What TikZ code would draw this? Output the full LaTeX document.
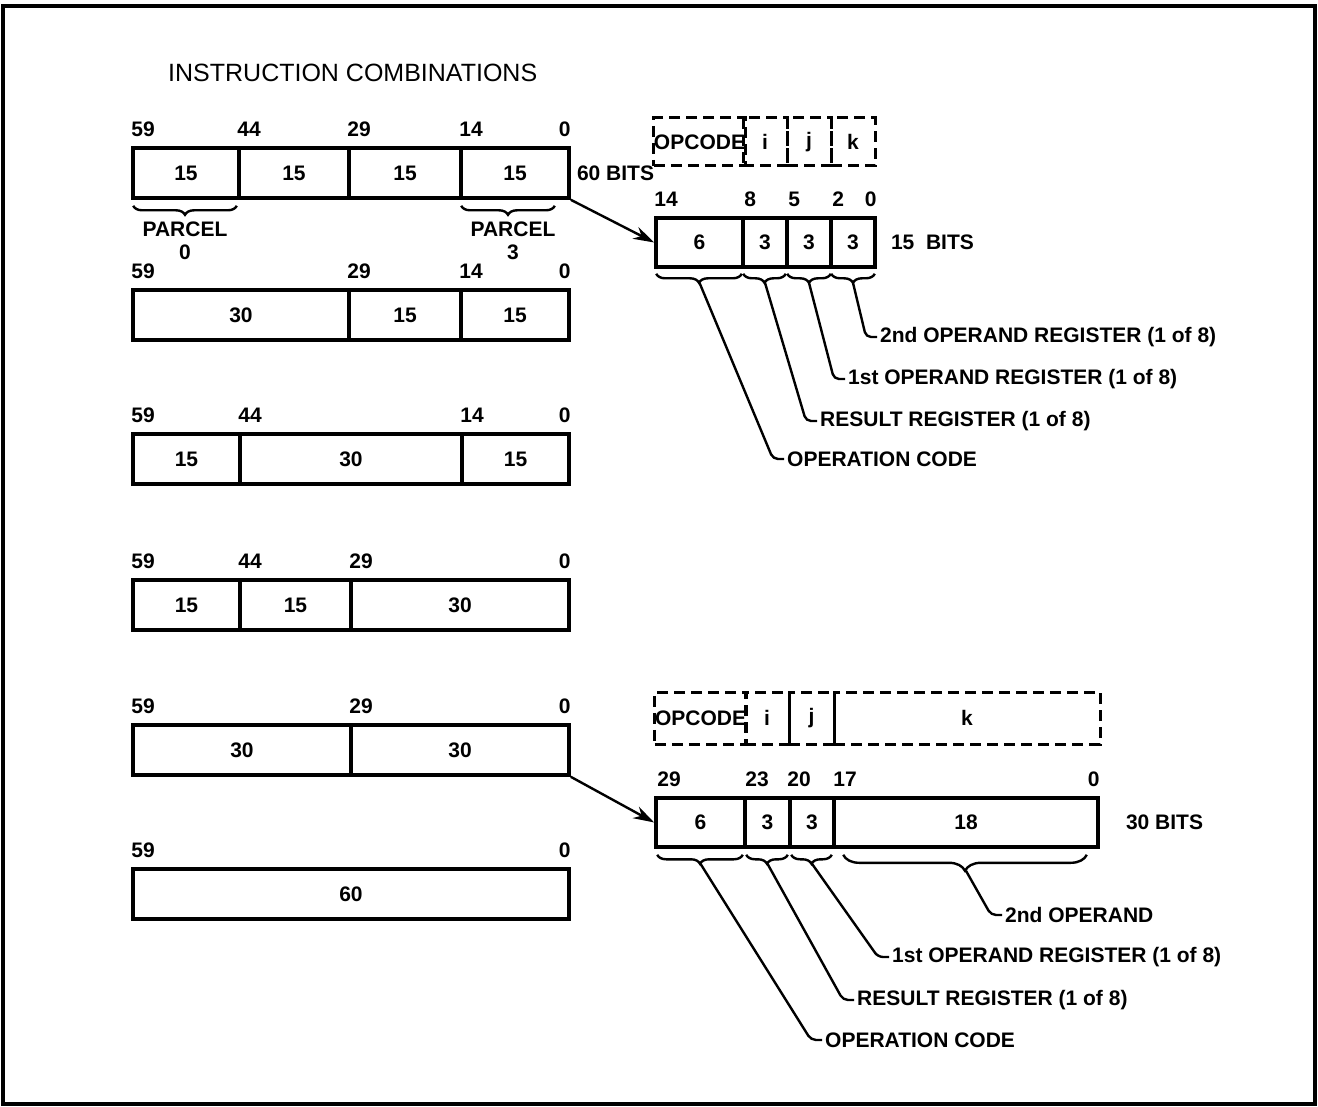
\documentclass[tikz,border=0pt]{standalone}
\usepackage{fontspec}
\setmainfont{Liberation Sans}
\usepackage{tikz}
\usetikzlibrary{arrows.meta,decorations.pathreplacing}

\begin{document}
\begin{tikzpicture}[x=1pt, y=-1pt,
  fld/.style={draw, line width=3.6pt, inner sep=0pt, minimum height=50pt, font=\fontsize{21}{24}\selectfont\bfseries},
  dfld/.style={fld, dash pattern=on 11pt off 6pt, line width=3pt, minimum height=48pt},
  bit/.style={anchor=base west, inner sep=0pt, font=\fontsize{21}{24}\selectfont\bfseries},
  bitr/.style={bit, anchor=base east},
  lbl/.style={anchor=west, inner sep=0pt, font=\fontsize{21}{24}\selectfont\bfseries},
  plab/.style={anchor=north, inner sep=0pt, align=center, font=\fontsize{21}{23}\selectfont\bfseries},
  brc/.style={decorate, decoration={brace, mirror, amplitude=9pt}, line width=2.4pt},
  lead/.style={line width=2.4pt, rounded corners=5pt},
  arr/.style={-{Stealth[length=21pt, width=13pt]}, line width=2.4pt}
]
  \useasboundingbox (0,0) rectangle (1318,1107);
  \draw[line width=3.6pt] (3,6) rectangle (1315,1104);

  \node[anchor=west, inner sep=0pt, font=\fontsize{25}{28}\selectfont] (title) at (168,73) {INSTRUCTION COMBINATIONS};

  \node[fld, minimum width=106pt] (r1a) at (186,173) {15};
  \node[fld, minimum width=110pt] (r1b) at (294,173) {15};
  \node[fld, minimum width=112pt] (r1c) at (405,173) {15};
  \node[fld, minimum width=108pt] (r1d) at (515,173) {15};
  \node[bit] (r1n59) at ([yshift=10pt]r1a.north west) {59};
  \node[bit] (r1n44) at ([yshift=10pt]r1b.north west) {44};
  \node[bit] (r1n29) at ([yshift=10pt]r1c.north west) {29};
  \node[bit] (r1n14) at ([yshift=10pt]r1d.north west) {14};
  \node[bitr] (r1n0) at ([yshift=10pt]r1d.north east) {0};
  \node[lbl] (r1bits) at ([xshift=6pt]r1d.east) {60 BITS};
  \draw[brc] ([xshift=2pt,yshift=-6pt]r1a.south west) -- ([xshift=-4pt,yshift=-6pt]r1a.south east);
  \draw[brc] ([xshift=2pt,yshift=-6pt]r1d.south west) -- ([xshift=-16pt,yshift=-6pt]r1d.south east);
  \node[plab] (par0) at (185,222) {PARCEL\\0};
  \node[plab] (par3) at (513,222) {PARCEL\\3};

  \node[fld, minimum width=216pt] (r2a) at (241,315) {30};
  \node[fld, minimum width=112pt] (r2b) at (405,315) {15};
  \node[fld, minimum width=108pt] (r2c) at (515,315) {15};
  \node[bit] (r2n59) at ([yshift=10pt]r2a.north west) {59};
  \node[bit] (r2n29) at ([yshift=10pt]r2b.north west) {29};
  \node[bit] (r2n14) at ([yshift=10pt]r2c.north west) {14};
  \node[bitr] (r2n0) at ([yshift=10pt]r2c.north east) {0};

  \node[fld, minimum width=107pt] (r3a) at (186.5,459) {15};
  \node[fld, minimum width=222pt] (r3b) at (351,459) {30};
  \node[fld, minimum width=107pt] (r3c) at (515.5,459) {15};
  \node[bit] (r3n59) at ([yshift=10pt]r3a.north west) {59};
  \node[bit] (r3n44) at ([yshift=10pt]r3b.north west) {44};
  \node[bit] (r3n14) at ([yshift=10pt]r3c.north west) {14};
  \node[bitr] (r3n0) at ([yshift=10pt]r3c.north east) {0};

  \node[fld, minimum width=107pt] (r4a) at (186.5,605) {15};
  \node[fld, minimum width=111pt] (r4b) at (295.5,605) {15};
  \node[fld, minimum width=218pt] (r4c) at (460,605) {30};
  \node[bit] (r4n59) at ([yshift=10pt]r4a.north west) {59};
  \node[bit] (r4n44) at ([yshift=10pt]r4b.north west) {44};
  \node[bit] (r4n29) at ([yshift=10pt]r4c.north west) {29};
  \node[bitr] (r4n0) at ([yshift=10pt]r4c.north east) {0};

  \node[fld, minimum width=218pt] (r5a) at (242,750) {30};
  \node[fld, minimum width=218pt] (r5b) at (460,750) {30};
  \node[bit] (r5n59) at ([yshift=10pt]r5a.north west) {59};
  \node[bit] (r5n29) at ([yshift=10pt]r5b.north west) {29};
  \node[bitr] (r5n0) at ([yshift=10pt]r5b.north east) {0};

  \node[fld, minimum width=436pt] (r6a) at (351,894) {60};
  \node[bit] (r6n59) at ([yshift=10pt]r6a.north west) {59};
  \node[bitr] (r6n0) at ([yshift=10pt]r6a.north east) {0};

  \node[dfld, minimum width=87pt] (d15a) at (699.5,142) {OPCODE};
  \node[dfld, minimum width=44pt] (d15b) at (765,142) {i};
  \node[dfld, minimum width=44pt] (d15c) at (809,142) {j};
  \node[dfld, minimum width=44pt] (d15d) at (853,142) {k};

  \node[fld, minimum width=87pt, minimum height=49pt] (f15a) at (699.5,242.5) {6};
  \node[fld, minimum width=44pt, minimum height=49pt] (f15b) at (765,242.5) {3};
  \node[fld, minimum width=44pt, minimum height=49pt] (f15c) at (809,242.5) {3};
  \node[fld, minimum width=44pt, minimum height=49pt] (f15d) at (853,242.5) {3};
  \node[bit] (f15n14) at ([yshift=10pt]f15a.north west) {14};
  \node[bit] (f15n8) at ([xshift=3pt,yshift=10pt]f15b.north west) {8};
  \node[bit] (f15n5) at ([xshift=3pt,yshift=10pt]f15c.north west) {5};
  \node[bit] (f15n2) at ([xshift=3pt,yshift=10pt]f15d.north west) {2};
  \node[bitr] (f15n0) at ([yshift=10pt]f15d.north east) {0};
  \node[lbl] (f15bits) at ([xshift=14pt]f15d.east) {15\ \ BITS};
  \draw[arr] (r1d.south east) -- (f15a.west);

  \draw[brc] ([xshift=2pt,yshift=-5pt]f15a.south west) -- ([xshift=-3pt,yshift=-5pt]f15a.south east);
  \draw[brc] ([xshift=2pt,yshift=-5pt]f15b.south west) -- ([xshift=-3pt,yshift=-5pt]f15b.south east);
  \draw[brc] ([xshift=2pt,yshift=-5pt]f15c.south west) -- ([xshift=-2pt,yshift=-5pt]f15c.south east);
  \draw[brc] ([xshift=2pt,yshift=-5pt]f15d.south west) -- ([xshift=-2pt,yshift=-5pt]f15d.south east);
  \coordinate (t15a) at ([yshift=-14pt]f15a.south);
  \coordinate (t15b) at ([yshift=-14pt]f15b.south);
  \coordinate (t15c) at ([yshift=-14pt]f15c.south);
  \coordinate (t15d) at ([yshift=-14pt]f15d.south);

  \node[lbl] (op2reg15) at (880,337) {2nd OPERAND REGISTER (1 of 8)};
  \node[lbl] (op1reg15) at (848,379) {1st OPERAND REGISTER (1 of 8)};
  \node[lbl] (res15) at (820,421) {RESULT REGISTER (1 of 8)};
  \node[lbl] (opc15) at (787,459) {OPERATION CODE};
  \draw[lead] (t15d) -- ([xshift=-14pt]op2reg15.west) -- ([xshift=-3pt]op2reg15.west);
  \draw[lead] (t15c) -- ([xshift=-14pt]op1reg15.west) -- ([xshift=-3pt]op1reg15.west);
  \draw[lead] (t15b) -- ([xshift=-14pt]res15.west) -- ([xshift=-3pt]res15.west);
  \draw[lead] (t15a) -- ([xshift=-14pt]opc15.west) -- ([xshift=-3pt]opc15.west);

  \node[dfld, minimum width=89pt, minimum height=52pt] (d30a) at (700.5,718) {OPCODE};
  \node[dfld, minimum width=44pt, minimum height=52pt] (d30b) at (767,718) {i};
  \node[dfld, minimum width=45pt, minimum height=52pt] (d30c) at (811.5,718) {j};
  \node[dfld, minimum width=266pt, minimum height=52pt] (d30d) at (967,718) {k};

  \node[fld, minimum width=89pt, minimum height=49pt] (f30a) at (700.5,822.5) {6};
  \node[fld, minimum width=45pt, minimum height=49pt] (f30b) at (767.5,822.5) {3};
  \node[fld, minimum width=44pt, minimum height=49pt] (f30c) at (812,822.5) {3};
  \node[fld, minimum width=264pt, minimum height=49pt] (f30d) at (966,822.5) {18};
  \node[bit] (f30n29) at ([xshift=3pt,yshift=10pt]f30a.north west) {29};
  \node[bit] (f30n23) at ([xshift=2pt,yshift=10pt]f30b.north west) {23};
  \node[bit] (f30n20) at ([xshift=-1pt,yshift=10pt]f30c.north west) {20};
  \node[bit] (f30n17) at ([xshift=1pt,yshift=10pt]f30d.north west) {17};
  \node[bitr] (f30n0) at ([yshift=10pt]f30d.north east) {0};
  \node[lbl] (f30bits) at ([xshift=26pt]f30d.east) {30 BITS};
  \draw[arr] (r5b.south east) -- (f30a.west);

  \draw[brc] ([xshift=3pt,yshift=-6pt]f30a.south west) -- ([xshift=-4pt,yshift=-6pt]f30a.south east);
  \draw[brc] ([xshift=3pt,yshift=-6pt]f30b.south west) -- ([xshift=-4pt,yshift=-6pt]f30b.south east);
  \draw[brc] ([xshift=3pt,yshift=-6pt]f30c.south west) -- ([xshift=-4pt,yshift=-6pt]f30c.south east);
  \draw[brc, decoration={amplitude=16pt, aspect=0.5}] ([xshift=11pt,yshift=-6pt]f30d.south west) -- ([xshift=-13pt,yshift=-6pt]f30d.south east);
  \coordinate (t30a) at ([yshift=-15pt]f30a.south);
  \coordinate (t30b) at ([yshift=-15pt]f30b.south);
  \coordinate (t30c) at ([yshift=-15pt]f30c.south);
  \coordinate (t30d) at ([yshift=-22pt]f30d.south);

  \node[lbl] (op2nd30) at (1005,915) {2nd OPERAND};
  \node[lbl] (op1reg30) at (892,957) {1st OPERAND REGISTER (1 of 8)};
  \node[lbl] (res30) at (857,1000) {RESULT REGISTER (1 of 8)};
  \node[lbl] (opc30) at (825,1040) {OPERATION CODE};
  \draw[lead] (t30d) -- ([xshift=-14pt]op2nd30.west) -- ([xshift=-3pt]op2nd30.west);
  \draw[lead] (t30c) -- ([xshift=-14pt]op1reg30.west) -- ([xshift=-3pt]op1reg30.west);
  \draw[lead] (t30b) -- ([xshift=-14pt]res30.west) -- ([xshift=-3pt]res30.west);
  \draw[lead] (t30a) -- ([xshift=-14pt]opc30.west) -- ([xshift=-3pt]opc30.west);
\end{tikzpicture}
\end{document}
